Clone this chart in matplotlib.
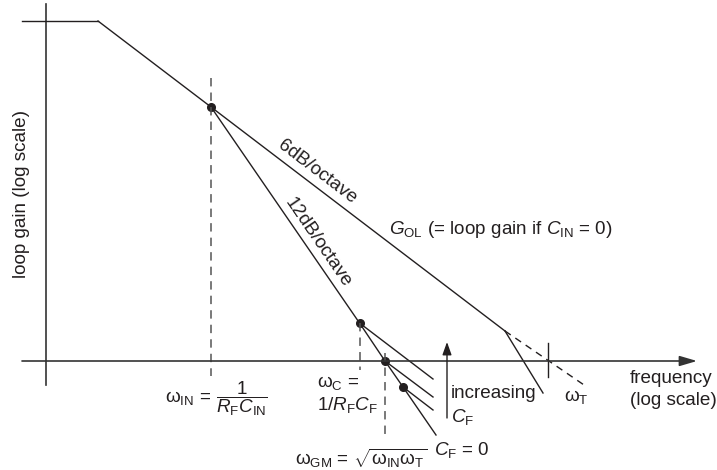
import matplotlib
matplotlib.use('Agg')
import matplotlib.pyplot as plt

plt.rcParams['font.family'] = ['Liberation Sans', 'DejaVu Sans']
plt.rcParams['mathtext.fontset'] = 'custom'
plt.rcParams['mathtext.rm'] = 'Liberation Sans'
plt.rcParams['mathtext.it'] = 'Liberation Sans:italic'
plt.rcParams['mathtext.bf'] = 'Liberation Sans:bold'

# sketch coordinates: x = log frequency, y = log loop gain (origin at axis crossing)
axis_x_end = 651
axis_y_end = 357
axis_start = -24

flat_x = [-24, 52]
flat_y = [340, 340]
gol_x = [52, 165, 459]
gol_y = [340, 254, 30]
gol_dash_x = [459, 541]
gol_dash_y = [30, -26]
gol_pole_x = [459, 497]
gol_pole_y = [30, -32]

loop12_x = [165, 313.5, 339, 357, 390]
loop12_y = [254, 38, 0, -26, -74]

# 6dB/octave branches after the C_F zero, one per C_F value
branch_x = [[313.5, 387], [339, 387], [357, 387]]
branch_y = [[38, -18], [0, -36], [-26, -49]]

dot_x = [165, 313.5, 339, 357]
dot_y = [254, 38, 0, -26]

w_in = 165
w_c = 313.5
w_gm = 339
w_t = 502
cf_arrow_x = 401

FS = 13.6
ink = '#231f20'
dash_col = '#555555'

fig = plt.figure(figsize=(7.17, 4.70), dpi=100)
ax = fig.add_axes([0, 0, 1, 1])
ax.set_xlim(-46, 671)
ax.set_ylim(-109, 361)
ax.axis('off')

# axes
ax.plot([0, 0], [axis_start, axis_y_end], color='#333333', lw=1.2)
ax.annotate('', xy=(axis_x_end, 0), xytext=(axis_start, 0),
            arrowprops=dict(arrowstyle='-|>,head_length=0.75,head_width=0.22',
                            mutation_scale=14, color='#333333', lw=1.2,
                            shrinkA=0, shrinkB=0))

lw = 1.0
ax.plot(flat_x, flat_y, color=ink, lw=lw)
ax.plot(gol_x, gol_y, color=ink, lw=lw)
ax.plot(gol_dash_x, gol_dash_y, color=ink, lw=lw, ls=(0, (5, 4)))
ax.plot(gol_pole_x, gol_pole_y, color=ink, lw=lw)
ax.plot(loop12_x, loop12_y, color=ink, lw=lw)
for bx, by in zip(branch_x, branch_y):
    ax.plot(bx, by, color=ink, lw=lw)
ax.plot(dot_x, dot_y, 'o', color=ink, ms=5.5, ls='none')

# dashed frequency markers
ax.plot([w_in, w_in], [283, -15], color=dash_col, lw=1.1, ls=(0, (5.5, 4)))
ax.plot([w_c, w_c], [38, -9], color=dash_col, lw=1.1, ls=(0, (5.5, 4)))
ax.plot([w_gm, w_gm], [8, -79], color=dash_col, lw=1.1, ls=(0, (5.5, 4)))
ax.plot([w_t, w_t], [-16, 18], color=ink, lw=1.0)

ax.annotate('', xy=(cf_arrow_x, 19), xytext=(cf_arrow_x, -57),
            arrowprops=dict(arrowstyle='-|>,head_length=0.7,head_width=0.25',
                            mutation_scale=11, color=ink, lw=1.0,
                            shrinkA=0, shrinkB=0))

# labels
ax.text(-24, 167, 'loop gain (log scale)', rotation=90, ha='center', va='center',
        fontsize=FS, color=ink)
ax.text(271, 189, '6dB/octave', rotation=-37.3, ha='center', va='center',
        fontsize=FS, color=ink, rotation_mode='anchor')
ax.text(272, 118, '12dB/octave', rotation=-55.6, ha='center', va='center',
        fontsize=FS, color=ink, rotation_mode='anchor')
ax.text(343, 127, r'$G_{\mathrm{OL}}$ (= loop gain if $C_{\mathrm{IN}}$ = 0)',
        ha='left', va='baseline', fontsize=FS, color=ink)
ax.text(405, -37, 'increasing', ha='left', va='baseline', fontsize=FS, color=ink)
ax.text(405, -61, r'$C_{\mathrm{F}}$', ha='left', va='baseline', fontsize=FS, color=ink)
ax.text(518, -40, r'$\mathrm{\omega}_{\mathrm{T}}$', ha='left', va='baseline',
        fontsize=FS, color=ink)
ax.text(584, -22, 'frequency', ha='left', va='baseline', fontsize=FS, color=ink)
ax.text(584, -44, '(log scale)', ha='left', va='baseline', fontsize=FS, color=ink)
ax.text(119, -41, r'$\mathrm{\omega}_{\mathrm{IN}}\,=\,\dfrac{1}{R_{\mathrm{F}}C_{\mathrm{IN}}}$',
        ha='left', va='baseline', fontsize=FS, color=ink)
ax.text(271, -26, r'$\mathrm{\omega}_{\mathrm{C}}$ =', ha='left', va='baseline',
        fontsize=FS, color=ink)
ax.text(271, -49, r'1/$R_{\mathrm{F}}C_{\mathrm{F}}$', ha='left', va='baseline',
        fontsize=FS, color=ink)
ax.text(249, -104, r'$\mathrm{\omega}_{\mathrm{GM}}$ = $\sqrt{\mathrm{\omega}_{\mathrm{IN}}\mathrm{\omega}_{\mathrm{T}}}$',
        ha='left', va='baseline', fontsize=FS, color=ink)
ax.text(388, -94, r'$C_{\mathrm{F}}$ = 0', ha='left', va='baseline', fontsize=FS, color=ink)

fig.savefig('out.png', dpi=100)
